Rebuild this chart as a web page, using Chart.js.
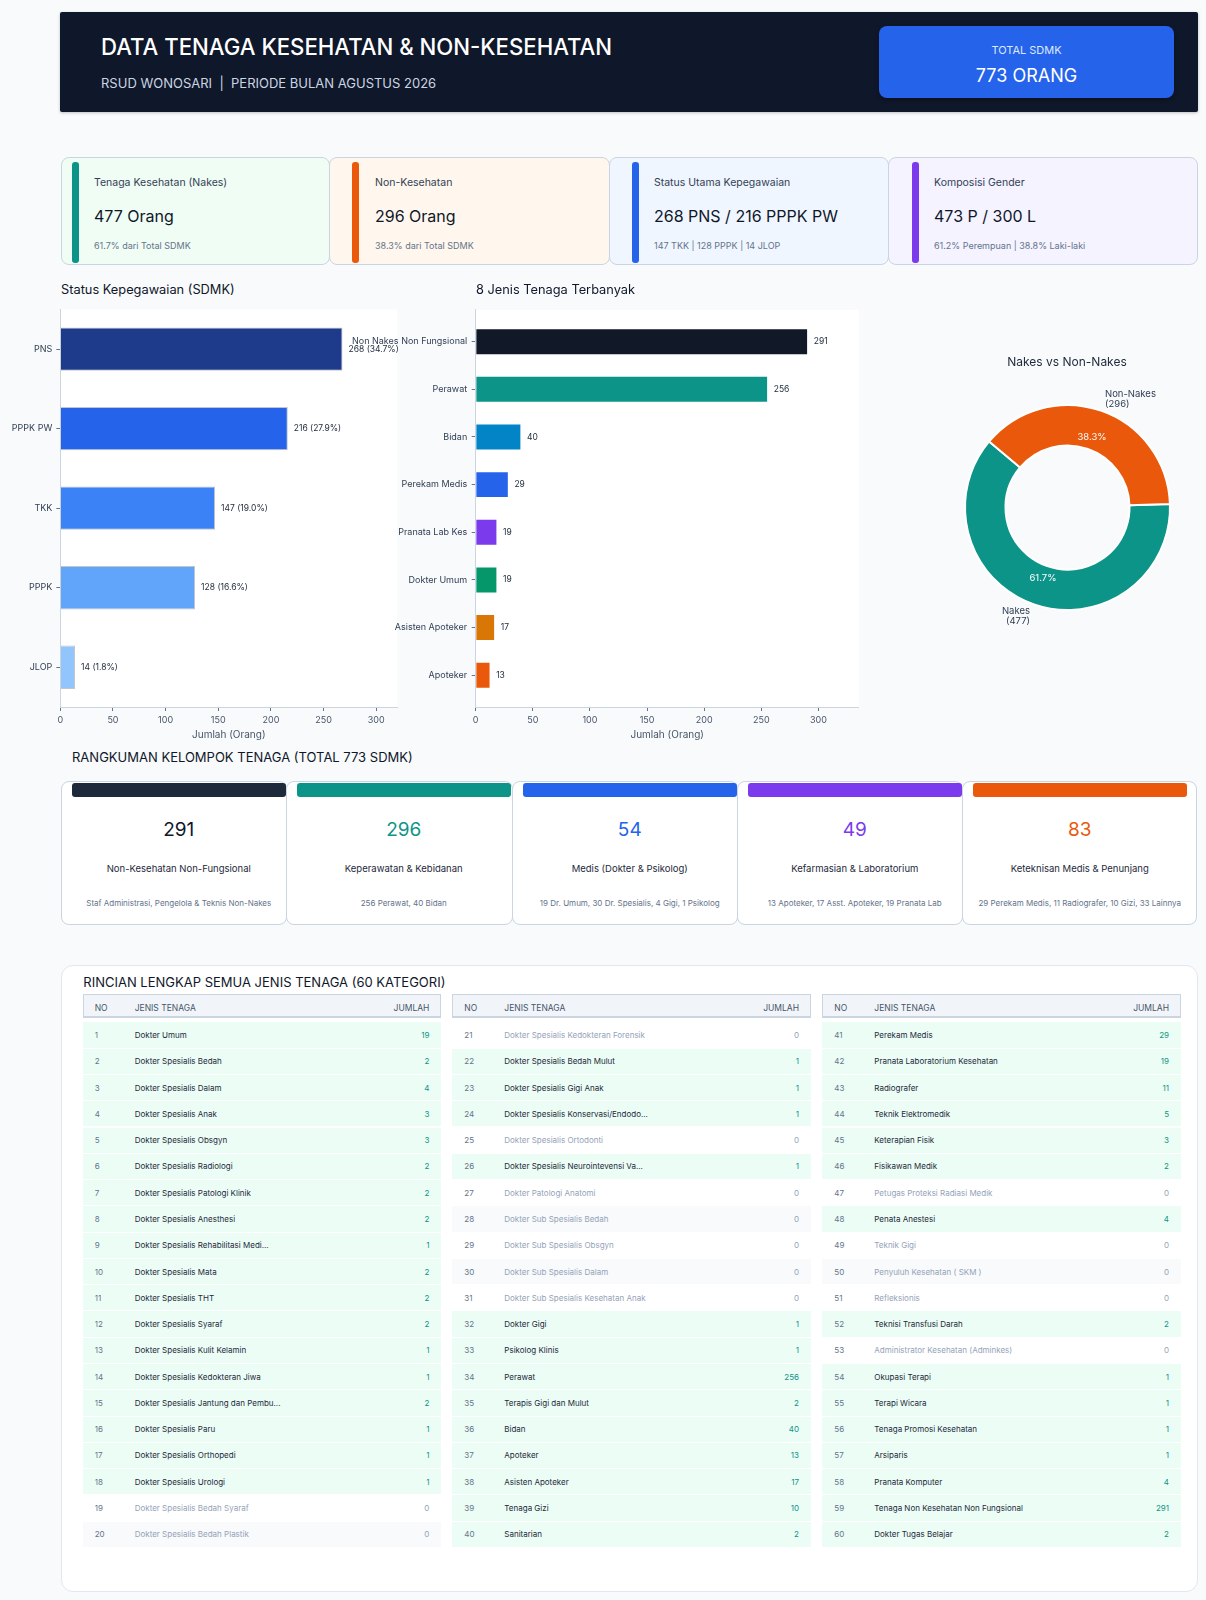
<!DOCTYPE html>
<html lang="id"><head><meta charset="utf-8"><title>Data Tenaga Kesehatan & Non-Kesehatan</title>
<script src="https://cdn.jsdelivr.net/npm/chart.js@4.4.1/dist/chart.umd.min.js"></script>
<style>
html,body{margin:0;padding:0;background:#f8fafc;}
body{width:1206px;height:1600px;position:relative;overflow:hidden;font-family:Inter,"Noto Sans",sans-serif;}
.box{position:absolute;box-sizing:border-box;}
.tx{position:absolute;white-space:nowrap;height:20px;line-height:20px;}
.cv{position:absolute;}
</style></head><body>
<div class="cv" style="left:0;top:300px;width:400px;height:441px"><canvas id="cL"></canvas></div>
<div class="cv" style="left:330px;top:300px;width:540px;height:441px"><canvas id="cM"></canvas></div>
<div class="cv" style="left:930px;top:370px;width:275px;height:275px"><canvas id="cD"></canvas></div>
<script>
// ================= DATA =================
const headerTitle = "DATA TENAGA KESEHATAN & NON-KESEHATAN";
const headerSub = "RSUD WONOSARI\u00a0 |\u00a0 PERIODE BULAN AGUSTUS 2026";

const kpiLabels = ["Tenaga Kesehatan (Nakes)", "Non-Kesehatan", "Status Utama Kepegawaian", "Komposisi Gender"];
const kpiValues = ["477 Orang", "296 Orang", "268 PNS / 216 PPPK PW", "473 P / 300 L"];
const kpiNotes = ["61.7% dari Total SDMK", "38.3% dari Total SDMK", "147 TKK | 128 PPPK | 14 JLOP", "61.2% Perempuan | 38.8% Laki-laki"];

const statusLabels = ["PNS", "PPPK PW", "TKK", "PPPK", "JLOP"];
const statusValues = [268, 216, 147, 128, 14];

const topLabels = ["Non Nakes Non Fungsional", "Perawat", "Bidan", "Perekam Medis", "Pranata Lab Kes", "Dokter Umum", "Asisten Apoteker", "Apoteker"];
const topValues = [291, 256, 40, 29, 19, 19, 17, 13];

const donutLabels = ["Nakes", "Non-Nakes"];
const donutValues = [477, 296];

const sumHeading = "RANGKUMAN KELOMPOK TENAGA (TOTAL 773 SDMK)";
const sumValues = [291, 296, 54, 49, 83];
const sumTitles = ["Non-Kesehatan Non-Fungsional", "Keperawatan & Kebidanan", "Medis (Dokter & Psikolog)", "Kefarmasian & Laboratorium", "Keteknisan Medis & Penunjang"];
const sumDescs = ["Staf Administrasi, Pengelola & Teknis Non-Nakes", "256 Perawat, 40 Bidan", "19 Dr. Umum, 30 Dr. Spesialis, 4 Gigi, 1 Psikolog", "13 Apoteker, 17 Asst. Apoteker, 19 Pranata Lab", "29 Perekam Medis, 11 Radiografer, 10 Gizi, 33 Lainnya"];

const tableTitle = "RINCIAN LENGKAP SEMUA JENIS TENAGA (60 KATEGORI)";
const tableHeaders = ["NO", "JENIS TENAGA", "JUMLAH"];
const tableNames = [
 "Dokter Umum","Dokter Spesialis Bedah","Dokter Spesialis Dalam","Dokter Spesialis Anak","Dokter Spesialis Obsgyn",
 "Dokter Spesialis Radiologi","Dokter Spesialis Patologi Klinik","Dokter Spesialis Anesthesi","Dokter Spesialis Rehabilitasi Medi...","Dokter Spesialis Mata",
 "Dokter Spesialis THT","Dokter Spesialis Syaraf","Dokter Spesialis Kulit Kelamin","Dokter Spesialis Kedokteran Jiwa","Dokter Spesialis Jantung dan Pembu...",
 "Dokter Spesialis Paru","Dokter Spesialis Orthopedi","Dokter Spesialis Urologi","Dokter Spesialis Bedah Syaraf","Dokter Spesialis Bedah Plastik",
 "Dokter Spesialis Kedokteran Forensik","Dokter Spesialis Bedah Mulut","Dokter Spesialis Gigi Anak","Dokter Spesialis Konservasi/Endodo...","Dokter Spesialis Ortodonti",
 "Dokter Spesialis Neurointevensi Va...","Dokter Patologi Anatomi","Dokter Sub Spesialis Bedah","Dokter Sub Spesialis Obsgyn","Dokter Sub Spesialis Dalam",
 "Dokter Sub Spesialis Kesehatan Anak","Dokter Gigi","Psikolog Klinis","Perawat","Terapis Gigi dan Mulut",
 "Bidan","Apoteker","Asisten Apoteker","Tenaga Gizi","Sanitarian",
 "Perekam Medis","Pranata Laboratorium Kesehatan","Radiografer","Teknik Elektromedik","Keterapian Fisik",
 "Fisikawan Medik","Petugas Proteksi Radiasi Medik","Penata Anestesi","Teknik Gigi","Penyuluh Kesehatan ( SKM )",
 "Refleksionis","Teknisi Transfusi Darah","Administrator Kesehatan (Adminkes)","Okupasi Terapi","Terapi Wicara",
 "Tenaga Promosi Kesehatan","Arsiparis","Pranata Komputer","Tenaga Non Kesehatan Non Fungsional","Dokter Tugas Belajar"
];
const tableValues = [
 19,2,4,3,3, 2,2,2,1,2, 2,2,1,1,2, 1,1,1,0,0,
 0,1,1,1,0, 1,0,0,0,0, 0,1,1,256,2, 40,13,17,10,2,
 29,19,11,5,3, 2,0,4,0,0, 0,2,0,1,1, 1,1,4,291,2
];

// ================= STYLE =================
const kpiAccent = ["#0d9488", "#ea580c", "#2563eb", "#7c3aed"];
const kpiBg = ["#f0fdf4", "#fff7ed", "#eff6ff", "#f5f3ff"];
const statusColors = ["#1e3a8a", "#2563eb", "#3b82f6", "#60a5fa", "#93c5fd"];
const topColors = ["#111827", "#0d9488", "#0284c7", "#2563eb", "#7c3aed", "#059669", "#d97706", "#ea580c"];
const donutColors = ["#0d9488", "#ea580c"];
const sumBarColors = ["#1e293b", "#0d9488", "#2563eb", "#7c3aed", "#ea580c"];
const sumNumColors = ["#0f172a", "#0d9488", "#2563eb", "#7c3aed", "#ea580c"];

const total = statusValues.reduce((a, b) => a + b, 0);

// ================= HELPERS =================
function box(x, y, w, h, css) {
  const d = document.createElement('div'); d.className = 'box';
  d.style.cssText = `left:${x}px;top:${y}px;width:${w}px;height:${h}px;` + (css || '');
  document.body.appendChild(d); return d;
}
function txt(s, x, cy, size, color, align, extra) {
  const d = document.createElement('div'); d.className = 'tx'; d.textContent = s;
  const pos = align === 'center' ? `left:${x}px;transform:translateX(-50%);` : align === 'right' ? `right:${1206 - x}px;` : `left:${x}px;`;
  d.style.cssText = pos + `top:${cy - 10}px;font-size:${size}px;color:${color};` + (extra || '');
  document.body.appendChild(d); return d;
}

// ================= HEADER =================
box(60, 12, 1138, 100, 'background:#0f172a;border-radius:2px;box-shadow:0 1px 3px rgba(15,23,42,.25);');
txt(headerTitle, 101, 46.7, 22.2, '#ffffff', 'left', 'font-weight:500;');
txt(headerSub, 101, 82.7, 13, '#cbd5e1');
box(879, 26, 295, 72, 'background:#2563eb;border-radius:8px;box-shadow:0 2px 4px rgba(0,0,0,.3);');
txt('TOTAL SDMK', 1026.5, 50, 11, '#dbeafe', 'center');
txt(total + ' ORANG', 1026.5, 76, 18, '#ffffff', 'center');

// ================= KPI CARDS =================
const kpiLeft = [61, 329, 609, 888], kpiW = [269, 281, 280, 310];
const kpiBar = [72, 351.7, 631.6, 911.8], kpiText = [94, 375, 654, 934];
kpiLabels.forEach((l, i) => {
  box(kpiLeft[i], 157, kpiW[i], 108, `background:${kpiBg[i]};border:1px solid #cbd5e1;border-radius:8px;`);
  box(kpiBar[i], 161.7, 7.3, 101, `background:${kpiAccent[i]};border-radius:3px;`);
  txt(l, kpiText[i], 183.3, 10.5, '#334155');
  txt(kpiValues[i], kpiText[i], 216, 16, '#0f172a');
  txt(kpiNotes[i], kpiText[i], 245.7, 9, '#64748b');
});

// ================= CHART TITLES =================
txt('Status Kepegawaian (SDMK)', 61, 290, 12.8, '#0f172a');
txt('8 Jenis Tenaga Terbanyak', 476, 290, 12.8, '#0f172a');
txt('Nakes vs Non-Nakes', 1067, 361.7, 12, '#1e293b', 'center');

// ================= CHARTS =================
Chart.defaults.font.family = 'Inter';
Chart.defaults.animation = false;

const plotBg = {
  id: 'plotBg',
  beforeDraw(c) {
    const { ctx, chartArea: a } = c;
    ctx.save(); ctx.fillStyle = '#ffffff';
    ctx.fillRect(a.left, a.top, a.right - a.left, a.bottom - a.top); ctx.restore();
  }
};
function makeValueLabels(fmt, gap) {
  return {
    id: 'valueLabels',
    afterDatasetsDraw(chart) {
      const ctx = chart.ctx, meta = chart.getDatasetMeta(0);
      ctx.save(); ctx.font = '8.5px Inter'; ctx.fillStyle = '#1e293b';
      ctx.textBaseline = 'middle'; ctx.textAlign = 'left';
      meta.data.forEach((bar, i) => ctx.fillText(fmt(i), bar.x + gap, bar.y));
      ctx.restore();
    }
  };
}
const axisTickColor = '#64748b';

new Chart(document.getElementById('cL'), {
  type: 'bar',
  data: { labels: statusLabels, datasets: [{ data: statusValues, backgroundColor: statusColors,
    borderColor: 'rgba(15,23,42,0.25)', borderWidth: 1, barPercentage: 0.545, categoryPercentage: 1 }] },
  options: {
    indexAxis: 'y', responsive: true, maintainAspectRatio: false,
    layout: { padding: { top: 8.7, right: 2.7, left: 0, bottom: 0 } },
    plugins: { legend: { display: false }, tooltip: { enabled: false } },
    scales: {
      x: { min: 0, max: 320,
        ticks: { stepSize: 50, includeBounds: false, font: { size: 9 }, color: '#475569', padding: 4, maxRotation: 0 },
        grid: { drawOnChartArea: false, tickLength: 4, color: axisTickColor },
        border: { color: '#cbd5e1' },
        title: { display: true, text: 'Jumlah (Orang)', font: { size: 10 }, color: '#475569', padding: { top: 0, bottom: 0 } },
        afterFit(s) { s.height = 34; } },
      y: { ticks: { font: { size: 9 }, color: '#334155', padding: 4 },
        grid: { drawOnChartArea: false, tickLength: 4, color: axisTickColor, offset: false },
        border: { color: '#cbd5e1' },
        afterFit(s) { s.width = 60.3; } }
    }
  },
  plugins: [plotBg, makeValueLabels(i => `${statusValues[i]} (${(statusValues[i] / total * 100).toFixed(1)}%)`, 6)]
});

new Chart(document.getElementById('cM'), {
  type: 'bar',
  data: { datasets: [{ data: topValues.map((v, i) => ({ x: v, y: i })), backgroundColor: topColors,
    borderColor: 'rgba(255,255,255,0.55)', borderWidth: 1, barPercentage: 0.565, categoryPercentage: 1 }] },
  options: {
    indexAxis: 'y', responsive: true, maintainAspectRatio: false,
    layout: { padding: { top: 8.7, right: 11.3, left: 0, bottom: 0 } },
    plugins: { legend: { display: false }, tooltip: { enabled: false } },
    scales: {
      x: { type: 'linear', min: 0, max: 335.3,
        ticks: { stepSize: 50, includeBounds: false, font: { size: 9 }, color: '#475569', padding: 4, maxRotation: 0 },
        grid: { drawOnChartArea: false, tickLength: 4, color: axisTickColor },
        border: { color: '#cbd5e1' },
        title: { display: true, text: 'Jumlah (Orang)', font: { size: 10 }, color: '#475569', padding: { top: 0, bottom: 0 } },
        afterFit(s) { s.height = 34; } },
      y: { type: 'linear', reverse: true, min: -2 / 3, max: 23 / 3, offset: false,
        afterBuildTicks(s) { s.ticks = topLabels.map((_, i) => ({ value: i })); },
        ticks: { callback: v => topLabels[v], font: { size: 9 }, color: '#334155', padding: 4.5, autoSkip: false },
        grid: { drawOnChartArea: false, tickLength: 4, color: axisTickColor, offset: false },
        border: { color: '#cbd5e1' },
        afterFit(s) { s.width = 145.7; } }
    }
  },
  plugins: [plotBg, makeValueLabels(i => String(topValues[i]), 5.6)]
});

const donutTotal = donutValues.reduce((a, b) => a + b, 0);
const donutText = {
  id: 'donutText',
  afterDatasetsDraw(chart) {
    const ctx = chart.ctx, meta = chart.getDatasetMeta(0);
    meta.data.forEach((arc, i) => {
      const p = arc.getProps(['x', 'y', 'startAngle', 'endAngle', 'innerRadius', 'outerRadius'], true);
      const mid = (p.startAngle + p.endAngle) / 2;
      const rIn = p.innerRadius + (p.outerRadius - p.innerRadius) * 0.32;
      ctx.save();
      ctx.font = '9.5px Inter'; ctx.fillStyle = '#ffffff'; ctx.textAlign = 'center'; ctx.textBaseline = 'middle';
      ctx.fillText((donutValues[i] / donutTotal * 100).toFixed(1) + '%', p.x + Math.cos(mid) * rIn, p.y + Math.sin(mid) * rIn);
      const rOut = p.outerRadius + 12.3;
      const ox = p.x + Math.cos(mid) * rOut, oy = p.y + Math.sin(mid) * rOut;
      ctx.fillStyle = '#334155'; ctx.textAlign = Math.cos(mid) >= 0 ? 'left' : 'right';
      ctx.fillText(donutLabels[i], ox, oy - 5.3);
      ctx.fillText(`(${donutValues[i]})`, ox, oy + 5.3);
      ctx.restore();
    });
  }
};
new Chart(document.getElementById('cD'), {
  type: 'doughnut',
  data: { labels: donutLabels, datasets: [{ data: donutValues, backgroundColor: donutColors, borderColor: '#ffffff', borderWidth: 2,
    radius: 102.5, cutout: '60.5%', rotation: 88 }] },
  options: { responsive: true, maintainAspectRatio: false, radius: 102.5, cutout: '60.5%', rotation: 88,
    layout: { padding: 0 }, plugins: { legend: { display: false }, tooltip: { enabled: false } } },
  plugins: [donutText]
});

// ================= SUMMARY CARDS =================
txt(sumHeading, 72, 757.3, 13, '#0f172a');
const sumLeft = [61, 286, 512, 737, 962];
sumValues.forEach((v, i) => {
  const L = sumLeft[i], W = (i < 4 ? sumLeft[i + 1] - L + 1 : 1197 - L);
  box(L, 780.7, W, 144.3, 'background:#ffffff;border:1px solid #cbd5e1;border-radius:8px;');
  const bx = L + 11, bw = 213.5;
  box(bx, 783.3, bw, 13.4, `background:${sumBarColors[i]};border-radius:3px;`);
  const cx = bx + bw / 2;
  txt(String(v), cx, 830, 19, sumNumColors[i], 'center');
  txt(sumTitles[i], cx, 869, 9.5, '#1e293b', 'center');
  txt(sumDescs[i], cx, 903.3, 8, '#64748b', 'center');
});

// ================= TABLE =================
box(60.7, 965, 1137.3, 627, 'background:#ffffff;border:1px solid #e2e8f0;border-radius:12px;');
txt(tableTitle, 83.3, 982.3, 13, '#0f172a');
const colLeft = [82.7, 452.3, 822.3], colW = 358.7, rowStep = 26.28;
colLeft.forEach((tx, c) => {
  box(tx, 994.3, colW, 24, 'background:#f1f5f9;border:1px solid #cbd5e1;border-bottom-width:2px;');
  txt(tableHeaders[0], tx + 12, 1007.5, 8.5, '#475569');
  txt(tableHeaders[1], tx + 52, 1007.5, 8.5, '#475569');
  txt(tableHeaders[2], tx + colW - 12, 1007.5, 8.5, '#475569', 'right');
  for (let k = 0; k < 20; k++) {
    const idx = c * 20 + k, no = idx + 1, v = tableValues[idx];
    const cy = 1035 + k * rowStep;
    const bg = v > 0 ? '#ecfdf5' : (no % 2 === 0 ? '#f8fafc' : '#ffffff');
    box(tx, cy - 12.6, colW, 25.2, `background:${bg};`);
    txt(String(no), tx + 12, cy, 8, '#64748b');
    txt(tableNames[idx], tx + 52, cy, 8, v > 0 ? '#1e293b' : '#94a3b8');
    txt(String(v), tx + colW - 12, cy, 8, v > 0 ? '#0d9488' : '#94a3b8', 'right');
  }
});
</script>
</body></html>
